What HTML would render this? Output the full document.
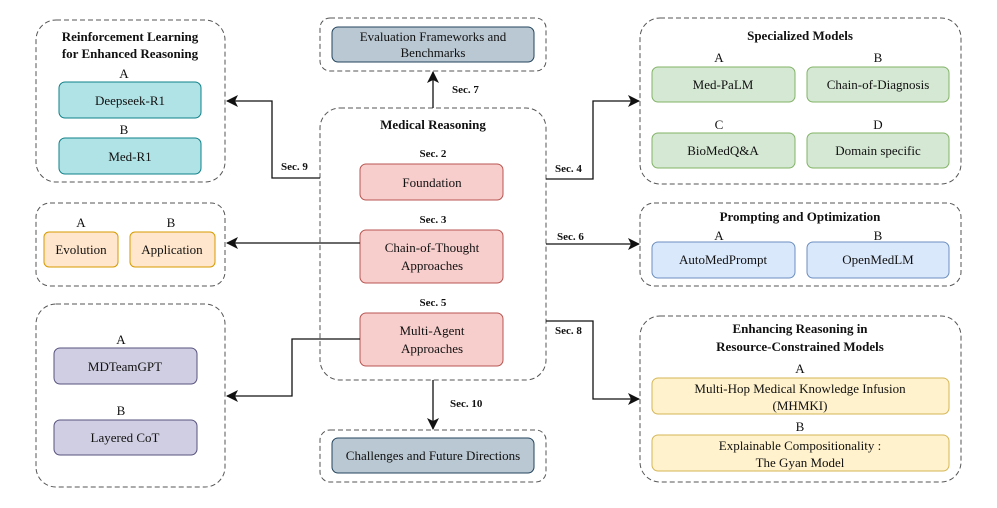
<!DOCTYPE html>
<html><head><meta charset="utf-8"><style>
html,body{margin:0;padding:0;background:#fff;}
svg{display:block;}
svg text{font-family:"Liberation Serif","Times New Roman",serif;fill:#111;}
.t{font-size:13px;text-anchor:middle;}
.b{font-size:13px;font-weight:bold;text-anchor:middle;}
.s{font-size:11px;font-weight:bold;}
.g{fill:none;stroke:#555;stroke-width:1;stroke-dasharray:5,3;}
.l{fill:none;stroke:#111;stroke-width:1.3;}
</style></head><body>
<svg width="997" height="508" viewBox="0 0 997 508" xmlns="http://www.w3.org/2000/svg" font-family="Liberation Serif, serif">
<defs><marker id="a" markerWidth="12" markerHeight="12" refX="11" refY="6" orient="auto" markerUnits="userSpaceOnUse"><path d="M0,0 L12,6 L0,12 L3,6 z" fill="#111"/></marker></defs>

<rect class="g" x="36" y="20" width="189" height="162" rx="20"/>
<rect class="g" x="36" y="203" width="189" height="83" rx="14"/>
<rect class="g" x="36" y="304" width="189" height="183" rx="20"/>
<rect class="g" x="320" y="18" width="226" height="53" rx="10"/>
<rect class="g" x="320" y="108" width="226" height="272" rx="20"/>
<rect class="g" x="320" y="430" width="226" height="52" rx="10"/>
<rect class="g" x="640" y="18" width="321" height="166" rx="20"/>
<rect class="g" x="640" y="203" width="321" height="83" rx="14"/>
<rect class="g" x="640" y="316" width="321" height="166" rx="20"/>

<text class="b" x="130" y="41">Reinforcement Learning</text>
<text class="b" x="130" y="58">for Enhanced Reasoning</text>
<text class="t" x="124" y="78">A</text>
<rect x="59" y="82" width="142" height="36" rx="6" fill="#b0e3e6" stroke="#0e8088"/>
<text class="t" x="130" y="105">Deepseek-R1</text>
<text class="t" x="124" y="134">B</text>
<rect x="59" y="138" width="142" height="36" rx="6" fill="#b0e3e6" stroke="#0e8088"/>
<text class="t" x="130" y="161">Med-R1</text>

<text class="t" x="81" y="227">A</text>
<text class="t" x="171" y="227">B</text>
<rect x="44" y="232" width="74" height="35" rx="5" fill="#ffe6cc" stroke="#d79b00"/>
<text class="t" x="81" y="254">Evolution</text>
<rect x="130" y="232" width="85" height="35" rx="5" fill="#ffe6cc" stroke="#d79b00"/>
<text class="t" x="172" y="254">Application</text>

<text class="t" x="121" y="344">A</text>
<rect x="54" y="348" width="143" height="36" rx="6" fill="#d0cee2" stroke="#56517e"/>
<text class="t" x="125" y="371">MDTeamGPT</text>
<text class="t" x="121" y="415">B</text>
<rect x="54" y="420" width="143" height="35" rx="6" fill="#d0cee2" stroke="#56517e"/>
<text class="t" x="125" y="442">Layered CoT</text>

<rect x="332" y="27" width="202" height="35" rx="6" fill="#bac8d3" stroke="#23445d"/>
<text class="t" x="433" y="41">Evaluation Frameworks and</text>
<text class="t" x="433" y="57">Benchmarks</text>
<text class="b" x="433" y="129">Medical Reasoning</text>
<text class="s" x="433" y="157" text-anchor="middle">Sec. 2</text>
<rect x="360" y="164" width="143" height="36" rx="6" fill="#f8cecc" stroke="#b85450"/>
<text class="t" x="432" y="187">Foundation</text>
<text class="s" x="433" y="223" text-anchor="middle">Sec. 3</text>
<rect x="360" y="230" width="143" height="53" rx="6" fill="#f8cecc" stroke="#b85450"/>
<text class="t" x="432" y="252">Chain-of-Thought</text>
<text class="t" x="432" y="270">Approaches</text>
<text class="s" x="433" y="306" text-anchor="middle">Sec. 5</text>
<rect x="360" y="313" width="143" height="53" rx="6" fill="#f8cecc" stroke="#b85450"/>
<text class="t" x="432" y="335">Multi-Agent</text>
<text class="t" x="432" y="353">Approaches</text>
<rect x="332" y="438" width="202" height="35" rx="6" fill="#bac8d3" stroke="#23445d"/>
<text class="t" x="433" y="460">Challenges and Future Directions</text>

<text class="b" x="800" y="40">Specialized Models</text>
<text class="t" x="719" y="62">A</text>
<text class="t" x="878" y="62">B</text>
<rect x="652" y="67" width="143" height="35" rx="6" fill="#d5e8d4" stroke="#82b366"/>
<text class="t" x="723" y="89">Med-PaLM</text>
<rect x="807" y="67" width="142" height="35" rx="6" fill="#d5e8d4" stroke="#82b366"/>
<text class="t" x="878" y="89">Chain-of-Diagnosis</text>
<text class="t" x="719" y="129">C</text>
<text class="t" x="878" y="129">D</text>
<rect x="652" y="133" width="143" height="35" rx="6" fill="#d5e8d4" stroke="#82b366"/>
<text class="t" x="723" y="155">BioMedQ&amp;A</text>
<rect x="807" y="133" width="142" height="35" rx="6" fill="#d5e8d4" stroke="#82b366"/>
<text class="t" x="878" y="155">Domain specific</text>

<text class="b" x="800" y="221">Prompting and Optimization</text>
<text class="t" x="719" y="240">A</text>
<text class="t" x="878" y="240">B</text>
<rect x="652" y="242" width="143" height="36" rx="6" fill="#dae8fc" stroke="#6c8ebf"/>
<text class="t" x="723" y="264">AutoMedPrompt</text>
<rect x="807" y="242" width="142" height="36" rx="6" fill="#dae8fc" stroke="#6c8ebf"/>
<text class="t" x="878" y="264">OpenMedLM</text>

<text class="b" x="800" y="333">Enhancing Reasoning in</text>
<text class="b" x="800" y="351">Resource-Constrained Models</text>
<text class="t" x="800" y="373">A</text>
<rect x="652" y="378" width="297" height="36" rx="6" fill="#fff2cc" stroke="#d6b656"/>
<text class="t" x="800" y="393">Multi-Hop Medical Knowledge Infusion</text>
<text class="t" x="800" y="410">(MHMKI)</text>
<text class="t" x="800" y="431">B</text>
<rect x="652" y="435" width="297" height="36" rx="6" fill="#fff2cc" stroke="#d6b656"/>
<text class="t" x="800" y="450">Explainable Compositionality :</text>
<text class="t" x="800" y="467">The Gyan Model</text>

<path class="l" d="M433,108 V72" marker-end="url(#a)"/>
<text class="s" x="452" y="93">Sec. 7</text>
<path class="l" d="M433,380 V429" marker-end="url(#a)"/>
<text class="s" x="450" y="407">Sec. 10</text>
<path class="l" d="M320,178 H272 V101 H227" marker-end="url(#a)"/>
<text class="s" x="281" y="170">Sec. 9</text>
<path class="l" d="M360,243 H227" marker-end="url(#a)"/>
<path class="l" d="M360,339 H292 V396 H227" marker-end="url(#a)"/>
<path class="l" d="M546,179 H593 V101 H639" marker-end="url(#a)"/>
<text class="s" x="555" y="172">Sec. 4</text>
<path class="l" d="M546,244 H639" marker-end="url(#a)"/>
<text class="s" x="557" y="240">Sec. 6</text>
<path class="l" d="M546,321 H593 V399 H639" marker-end="url(#a)"/>
<text class="s" x="555" y="334">Sec. 8</text>
</svg>
</body></html>
